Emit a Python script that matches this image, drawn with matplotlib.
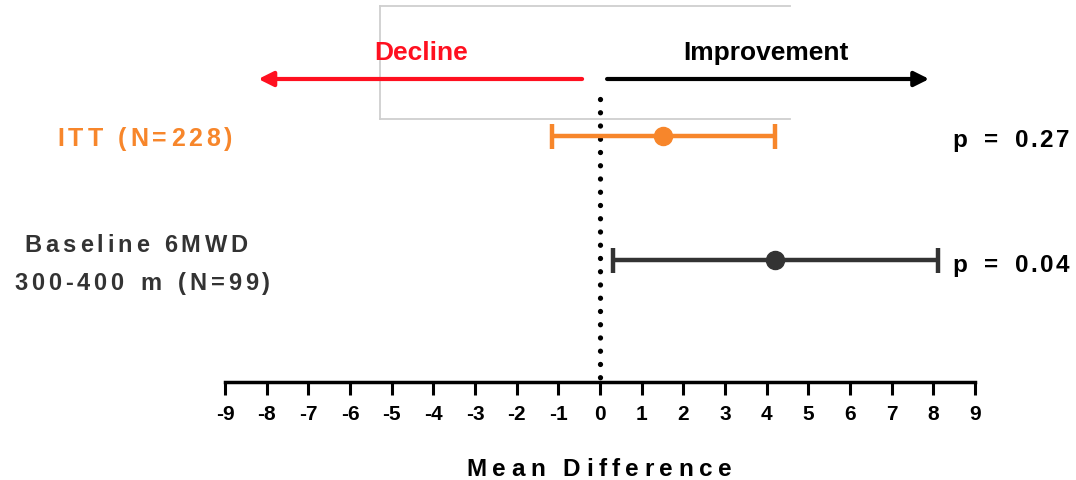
"""Forest-style plot: mean difference in 6MWD, ITT vs baseline 300-400 m subgroup."""
import matplotlib
matplotlib.use("Agg")
import matplotlib.pyplot as plt
from matplotlib.font_manager import FontProperties
from matplotlib.lines import Line2D

W, H, DPI = 1076, 481, 100

groups = ["ITT (N=228)", "Baseline 6MWD\n300-400 m (N=99)"]
means = [1.5, 4.2]
lower = [-1.15, 0.3]
upper = [4.2, 8.1]
p_labels = ["p = 0.27", "p = 0.04"]
colors = ["#F7862B", "#333333"]
ticks = list(range(-9, 10))

SANS = ["Liberation Sans", "DejaVu Sans"]

fig = plt.figure(figsize=(W / DPI, H / DPI), dpi=DPI)
# axes: x from -9 (px 225) to 9 (px 975), y in pixels from top, spine at px 383
ax = fig.add_axes([225 / W, (H - 383) / H, 750 / W, 383 / H])
ax.patch.set_visible(False)
ax.set_xlim(-9, 9)
ax.set_ylim(383, 0)
for s in ("left", "right", "top"):
    ax.spines[s].set_visible(False)
ax.spines["bottom"].set_linewidth(2.5)
ax.set_yticks([])
ax.set_xticks(ticks)
ax.set_xticklabels([str(t) for t in ticks])
ax.tick_params(axis="x", length=9, width=2.2, pad=7, direction="out")
for lab in ax.get_xticklabels():
    lab.set_fontproperties(FontProperties(family=SANS, weight="bold", size=15))

renderer = fig.canvas.get_renderer()


def spaced(px, py, s, size, color, track, ha="center", space=None):
    """Letter-spaced text; px, py are pixels from top-left, py is the baseline."""
    fp = FontProperties(family=SANS, weight="bold", size=size)
    if space is None:
        space = size * 0.28 * DPI / 72
    widths = []
    for ch in s:
        if ch == " ":
            widths.append(space)
        else:
            w, _, _ = renderer.get_text_width_height_descent(ch, fp, ismath=False)
            widths.append(w)
    total = sum(widths) + track * (len(s) - 1)
    start = {"center": -total / 2, "right": -total, "left": 0}[ha]
    pos = px + start
    for ch, w in zip(s, widths):
        if ch != " ":
            fig.text(pos / W, (H - py) / H, ch, fontproperties=fp, color=color,
                     ha="left", va="baseline")
        pos += w + track


# zero line
ax.plot([0, 0], [100, 383], color="black", lw=3.8, linestyle=(0, (0.01, 2.5)),
        dash_capstyle="round", clip_on=False, zorder=1)

# estimates with CIs
rows_y = [137, 261]
for y, m, lo, hi, c in zip(rows_y, means, lower, upper, colors):
    ax.errorbar([m], [y], xerr=[[m - lo], [hi - m]], fmt="o", color=c, ms=13,
                elinewidth=3.2, capsize=9, capthick=3.2, clip_on=False, zorder=3)

# direction arrows
ax.annotate("", xy=(-8.2, 80), xytext=(-0.43, 80),
            arrowprops=dict(arrowstyle="-|>", color="#FF1020", lw=3, mutation_scale=22,
                            shrinkA=0, shrinkB=0), annotation_clip=False, zorder=4)
ax.annotate("", xy=(7.9, 80), xytext=(0.17, 80),
            arrowprops=dict(arrowstyle="-|>", color="black", lw=3, mutation_scale=22,
                            shrinkA=0, shrinkB=0), annotation_clip=False, zorder=4)

# faint box behind the arrow labels
for xs, ys in (([380, 790], [7, 7]), ([380, 790], [120, 120]), ([380, 380], [7, 120])):
    fig.add_artist(Line2D([x / W for x in xs], [(H - y) / H for y in ys],
                          color="#cfcfcf", lw=1.3, zorder=-1))

fp_dir = FontProperties(family=SANS, weight="bold", size=19)
fig.text(421 / W, (H - 60) / H, "Decline", fontproperties=fp_dir, color="#FF1020",
         ha="center", va="baseline")
fig.text(766 / W, (H - 60) / H, "Improvement", fontproperties=fp_dir, color="black",
         ha="center", va="baseline")

# group labels
spaced(145, 146, groups[0], 18, colors[0], 4)
line1, line2 = groups[1].split("\n")
spaced(136, 252, line1, 17, colors[1], 4.0)
spaced(142, 290, line2, 17, colors[1], 3.8, space=9)

# p values
spaced(1069, 147, p_labels[0], 17.5, "black", 2.4, ha="right", space=12)
spaced(1069, 272, p_labels[1], 17.5, "black", 2.4, ha="right", space=12)

# x-axis title
spaced(599, 476, "Mean Difference", 17.5, "black", 5.5)

fig.savefig("out.png", dpi=DPI)
